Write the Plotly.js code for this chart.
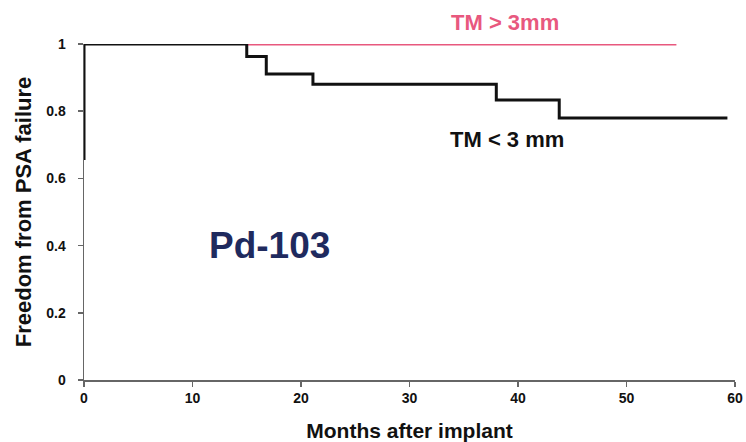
<!DOCTYPE html>
<html>
<head>
<meta charset="utf-8">
<script src="https://cdn.plot.ly/plotly-3.0.1.min.js"></script>
<style>html,body{margin:0;padding:0;background:#fff;}#chart{width:746px;height:442px;}</style>
</head>
<body>
<div id="chart"></div>
<script>
// Kaplan-Meier style step data (months, survival fraction)
const lowMonths = [0, 0, 15, 16.8, 21.1, 38, 43.8, 59.3];
const lowFreedom = [0.655, 1, 0.963, 0.911, 0.880, 0.833, 0.780, 0.780];
const highMonths = [15.1, 54.6];
const highFreedom = [1, 1];
const xTicks = [0, 10, 20, 30, 40, 50, 60];
const yTicks = [0, 0.2, 0.4, 0.6, 0.8, 1];
const yTickText = ['0', '0.2', '0.4', '0.6', '0.8', '1'];

const font = 'Liberation Sans, Arial, Helvetica, sans-serif';

const traces = [
  {x: highMonths, y: highFreedom, mode: 'lines', line: {color: '#e8587e', width: 3}, hoverinfo: 'skip', cliponaxis: false},
  {x: lowMonths, y: lowFreedom, mode: 'lines', line: {color: '#111111', width: 3, shape: 'hv'}, hoverinfo: 'skip', cliponaxis: false}
];

const layout = {
  width: 746, height: 442,
  margin: {l: 84, r: 11, t: 44, b: 62},
  paper_bgcolor: '#ffffff', plot_bgcolor: '#ffffff',
  showlegend: false,
  font: {family: font, color: '#111'},
  xaxis: {
    range: [0, 60], tickvals: xTicks, ticktext: xTicks.map(String),
    showgrid: false, zeroline: false, showline: true, linecolor: '#666', linewidth: 1.5,
    ticks: 'outside', ticklen: 5, tickcolor: '#666', tickwidth: 1.5,
    ticklabeloverflow: 'allow',
    tickfont: {family: font, size: 14, color: '#111', weight: 'bold'},
    title: {text: 'Months after implant', font: {family: font, size: 21, color: '#111', weight: 'bold'}, standoff: 18}
  },
  yaxis: {
    range: [0, 1], tickvals: yTicks, ticktext: yTickText,
    showgrid: false, zeroline: false, showline: true, linecolor: '#666', linewidth: 1.5,
    ticks: 'outside', ticklen: 5, tickcolor: '#666', tickwidth: 1.5,
    ticklabelstandoff: 9,
    tickfont: {family: font, size: 14, color: '#111', weight: 'bold'},
    title: {text: 'Freedom from PSA failure', font: {family: font, size: 22, color: '#111', weight: 'bold'}, standoff: 8}
  },
  annotations: [
    {x: 38.8, y: 1.065, xref: 'x', yref: 'paper', yanchor: 'middle', text: 'TM > 3mm', showarrow: false,
     font: {family: font, size: 22, color: '#e8587e', weight: 'bold'}},
    {x: 39.0, y: 0.717, xref: 'x', yref: 'y', yanchor: 'middle', text: 'TM < 3 mm', showarrow: false,
     font: {family: font, size: 22, color: '#111', weight: 'bold'}},
    {x: 17.1, y: 0.40, xref: 'x', yref: 'y', yanchor: 'middle', text: 'Pd-103', showarrow: false,
     font: {family: font, size: 37, color: '#1f2a5e', weight: 'bold'}}
  ]
};

Plotly.newPlot('chart', traces, layout, {displayModeBar: false, staticPlot: true});
</script>
</body>
</html>
